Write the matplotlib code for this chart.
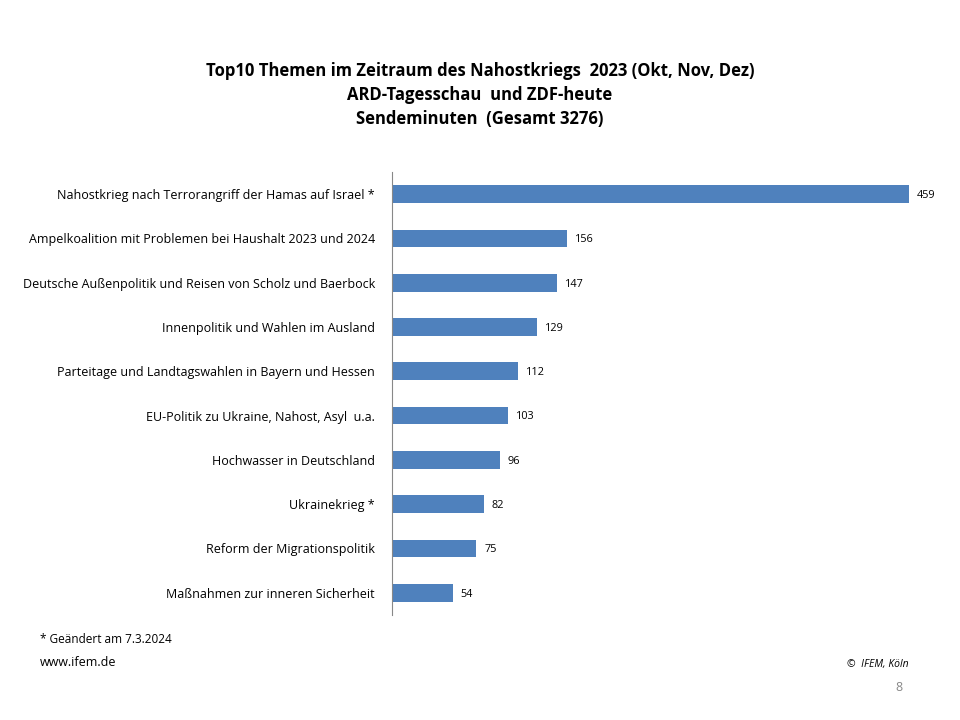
import matplotlib
matplotlib.use("Agg")
import matplotlib.pyplot as plt

plt.rcParams['font.family'] = ['Open Sans', 'DejaVu Sans']

themen = [
    "Nahostkrieg nach Terrorangriff der Hamas auf Israel *",
    "Ampelkoalition mit Problemen bei Haushalt 2023 und 2024",
    "Deutsche Außenpolitik und Reisen von Scholz und Baerbock",
    "Innenpolitik und Wahlen im Ausland",
    "Parteitage und Landtagswahlen in Bayern und Hessen",
    "EU-Politik zu Ukraine, Nahost, Asyl  u.a.",
    "Hochwasser in Deutschland",
    "Ukrainekrieg *",
    "Reform der Migrationspolitik",
    "Maßnahmen zur inneren Sicherheit",
]
minuten = [459, 156, 147, 129, 112, 103, 96, 82, 75, 54]

fig = plt.figure(figsize=(9.6, 7.2), dpi=100)
ax = fig.add_axes([0.408, 0.146, 0.571, 0.615])

y = list(range(len(themen)))
ax.barh(y, minuten, height=0.4, color="#4f81bd")
for yi, v in zip(y, minuten):
    ax.text(v + 7, yi + 0.03, str(v), va="center", ha="left", fontsize=7.8)

ax.set_yticks(y)
ax.set_yticklabels(themen, fontsize=9)
ax.set_ylim(len(themen) - 0.5, -0.5)
ax.set_xlim(0, 486.5)
ax.set_xticks([])
ax.tick_params(axis="y", length=0, pad=12)
for s in ["top", "right", "bottom"]:
    ax.spines[s].set_visible(False)
ax.spines["left"].set_color("#888888")

fig.text(0.5, 0.868, "Top10 Themen im Zeitraum des Nahostkriegs  2023 (Okt, Nov, Dez)\n"
         "ARD-Tagesschau  und ZDF-heute\nSendeminuten  (Gesamt 3276)",
         ha="center", va="center", fontsize=12, fontweight="bold", linespacing=1.45)

fig.text(0.042, 0.107, "* Geändert am 7.3.2024", fontsize=8.5)
fig.text(0.042, 0.075, "www.ifem.de", fontsize=9)
fig.text(0.947, 0.073, "©  IFEM, Köln", fontsize=7.5, ha="right", style="italic")
fig.text(0.94, 0.04, "8", fontsize=9, ha="right", color="#888888")

fig.savefig("out.png", dpi=100)
